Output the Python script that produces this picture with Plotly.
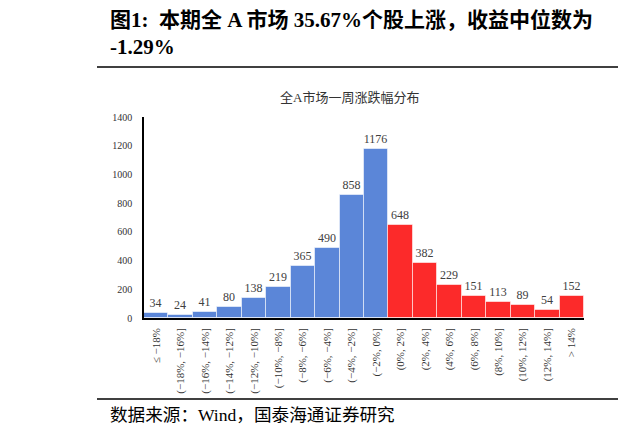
import plotly.graph_objects as go

# ---- data ----
categories = ["≤ −18%", "(−18%, −16%]", "(−16%, −14%]", "(−14%, −12%]", "(−12%, −10%]",
              "(−10%, −8%]", "(−8%, −6%]", "(−6%, −4%]", "(−4%, −2%]", "(−2%, 0%]",
              "(0%, 2%]", "(2%, 4%]", "(4%, 6%]", "(6%, 8%]", "(8%, 10%]",
              "(10%, 12%]", "(12%, 14%]", "> 14%"]
counts = [34, 24, 41, 80, 138, 219, 365, 490, 858, 1176, 648, 382, 229, 151, 113, 89, 54, 152]
n_down = 10  # first ten bins are declines (blue), rest gains (red)
y_ticks = [0, 200, 400, 600, 800, 1000, 1200, 1400]

title_line1 = "图1:  本期全 A 市场 35.67%个股上涨，收益中位数为"
title_line2 = "-1.29%"
chart_title = "全A市场一周涨跌幅分布"
source_text = "数据来源：Wind，国泰海通证券研究"

# ---- styling ----
W, H = 618, 436
L, R, T, B = 144, 34, 117, 118
BLUE = "#5B86D8"
RED = "#FC2A2A"
SERIF = "Liberation Serif, Noto Sans CJK SC, serif"

colors = [BLUE if i < n_down else RED for i in range(len(categories))]

def px_x(px):
    return (px - L) / (W - L - R)

def px_y(py):
    return 1 - (py - T) / (H - T - B)

fig = go.Figure(go.Bar(
    x=categories, y=counts,
    marker=dict(color=colors, line=dict(color="rgba(255,255,255,0.55)", width=1)),
    text=[str(v) for v in counts], textposition="outside",
    textfont=dict(family=SERIF, size=12, color="#404040"),
    cliponaxis=False,
))

fig.update_layout(
    width=W, height=H,
    margin=dict(l=L, r=R, t=T, b=B, pad=0),
    paper_bgcolor="white", plot_bgcolor="white",
    bargap=0, showlegend=False,
    xaxis=dict(showline=True, linecolor="black", linewidth=1.5, ticks="",
               tickangle=-90, tickfont=dict(family=SERIF, size=11, color="#333333"),
               showgrid=False, zeroline=False, ticklabelstandoff=4),
    yaxis=dict(range=[0, 1400], tickvals=y_ticks, showline=True, linecolor="black",
               linewidth=1.5, ticks="", showgrid=False, zeroline=False,
               tickfont=dict(family=SERIF, size=10, color="#333333"),
               ticklabelstandoff=8),
)

annots = [
    dict(text=title_line1, x=px_x(108), y=px_y(20), xanchor="left", yanchor="middle",
         font=dict(family=SERIF, size=21, color="black", weight="bold")),
    dict(text=title_line2, x=px_x(108), y=px_y(47), xanchor="left", yanchor="middle",
         font=dict(family=SERIF, size=21, color="black", weight="bold")),
    dict(text=chart_title, x=px_x(349), y=px_y(97), xanchor="center", yanchor="middle",
         font=dict(family=SERIF, size=13, color="#333333")),
    dict(text=source_text, x=px_x(108), y=px_y(415), xanchor="left", yanchor="middle",
         font=dict(family=SERIF, size=17.6, color="black")),
]
for a in annots:
    a.update(xref="paper", yref="paper", showarrow=False)
fig.update_layout(annotations=annots)

fig.update_layout(shapes=[
    dict(type="line", xref="paper", yref="paper", x0=px_x(97), x1=px_x(618),
         y0=px_y(67), y1=px_y(67), line=dict(color="black", width=1.5)),
    dict(type="line", xref="paper", yref="paper", x0=px_x(97), x1=px_x(618),
         y0=px_y(399), y1=px_y(399), line=dict(color="black", width=1.5)),
])

fig.write_html("out.html", config={"displayModeBar": False},
               post_script="document.body.style.margin='0';")
